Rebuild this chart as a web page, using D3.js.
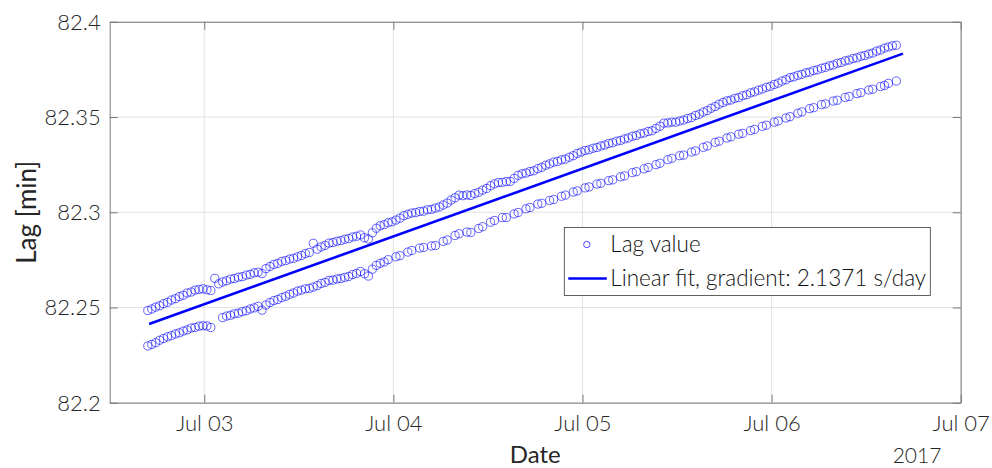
<!DOCTYPE html>
<html><head><meta charset="utf-8">
<script src="https://cdn.jsdelivr.net/npm/d3@7"></script>
<style>body{margin:0;background:#fff}svg{display:block}</style>
</head><body><svg id="chart" width="992" height="468"></svg>
<script>
// ---------- data ----------
const seriesName = "Lag value";
const fitName = "Linear fit, gradient: 2.1371 s/day";
const xLabel = "Date", yLabel = "Lag [min]", yearLabel = "2017";
const yTicks = [82.2, 82.25, 82.3, 82.35, 82.4];
const yTickLabels = ["82.2", "82.25", "82.3", "82.35", "82.4"];
const xTickDates = [new Date(2017,6,3), new Date(2017,6,4), new Date(2017,6,5), new Date(2017,6,6), new Date(2017,6,7)];
const xTickLabels = ["Jul 03", "Jul 04", "Jul 05", "Jul 06", "Jul 07"];
const xDomain = [new Date(2017,6,2,12,0), new Date(2017,6,7,0,0)];
const yDomain = [82.2, 82.4];
const sampleStart = new Date(2017,6,2,16,50);
const sampleStepMinutes = 30;
const upperLag = [
82.2484,82.2492,82.2502,82.2509,82.2520,82.2527,82.2539,82.2546,82.2557,82.2564,
82.2576,82.2581,82.2591,82.2595,82.2598,82.2593,82.2589,82.2653,82.2624,82.2634,
82.2640,82.2649,82.2652,82.2659,82.2662,82.2670,82.2674,82.2682,82.2685,82.2678,
82.2704,82.2715,82.2726,82.2732,82.2742,82.2746,82.2754,82.2758,82.2766,82.2773,
82.2783,82.2789,82.2837,82.2806,82.2818,82.2826,82.2838,82.2841,82.2848,82.2851,
82.2858,82.2862,82.2870,82.2874,82.2881,82.2866,82.2860,82.2892,82.2916,82.2929,
82.2935,82.2945,82.2950,82.2959,82.2969,82.2982,82.2989,82.2996,82.2998,82.3004,
82.3006,82.3013,82.3015,82.3022,82.3028,82.3038,82.3048,82.3064,82.3076,82.3090,
82.3087,82.3091,82.3088,82.3098,82.3105,82.3116,82.3125,82.3139,82.3149,82.3156,
82.3157,82.3161,82.3162,82.3178,82.3194,82.3202,82.3206,82.3214,82.3218,82.3229,
82.3236,82.3247,82.3254,82.3263,82.3267,82.3275,82.3279,82.3289,82.3297,82.3309,
82.3316,82.3324,82.3328,82.3336,82.3340,82.3348,82.3353,82.3361,82.3365,82.3373,
82.3377,82.3385,82.3390,82.3399,82.3403,82.3412,82.3416,82.3424,82.3428,82.3440,
82.3452,82.3468,82.3469,82.3473,82.3473,82.3479,82.3484,82.3492,82.3497,82.3508,
82.3515,82.3526,82.3534,82.3546,82.3555,82.3567,82.3576,82.3585,82.3589,82.3598,
82.3602,82.3612,82.3617,82.3627,82.3632,82.3641,82.3647,82.3656,82.3661,82.3671,
82.3678,82.3689,82.3696,82.3707,82.3711,82.3719,82.3724,82.3732,82.3736,82.3744,
82.3748,82.3756,82.3761,82.3769,82.3773,82.3782,82.3786,82.3795,82.3799,82.3807,
82.3811,82.3819,82.3823,82.3831,82.3836,82.3846,82.3852,82.3862,82.3868,82.3874,
82.3877];
const lowerLag = [
82.2298,82.2306,82.2315,82.2328,82.2337,82.2346,82.2352,82.2361,82.2367,82.2376,
82.2382,82.2392,82.2395,82.2402,82.2404,82.2403,82.2395,null,null,82.2447,
82.2455,82.2459,82.2467,82.2470,82.2478,82.2483,82.2492,82.2498,82.2506,82.2486,
82.2513,82.2526,82.2536,82.2542,82.2552,82.2559,82.2569,82.2576,82.2586,82.2591,
82.2598,82.2600,82.2607,82.2615,82.2626,82.2632,82.2642,82.2644,82.2650,82.2652,
82.2658,82.2663,82.2673,82.2679,82.2689,82.2677,82.2665,82.2701,82.2721,82.2732,
82.2739,82.2751,null,82.2766,82.2772,null,82.2791,82.2799,null,82.2812,
82.2815,null,82.2823,82.2825,null,82.2847,82.2854,null,82.2878,82.2887,
null,82.2896,82.2894,null,82.2915,82.2924,null,82.2948,82.2957,null,
82.2972,82.2972,null,82.2991,82.2999,null,82.3018,82.3025,null,82.3043,
82.3047,null,82.3062,82.3067,null,82.3084,82.3090,null,82.3106,82.3112,
null,82.3128,82.3133,null,82.3148,82.3152,null,82.3166,82.3170,null,
82.3186,82.3191,null,82.3208,82.3213,null,82.3228,82.3235,null,82.3250,
82.3257,null,82.3276,82.3283,null,82.3297,82.3300,null,82.3316,82.3322,
null,82.3341,82.3348,null,82.3367,82.3373,null,82.3390,82.3396,null,
82.3410,82.3414,null,82.3429,82.3435,null,82.3451,82.3457,null,82.3473,
82.3479,null,82.3495,82.3502,null,82.3520,82.3527,null,82.3544,82.3549,
null,82.3565,82.3569,null,82.3584,82.3588,null,82.3603,82.3608,null,
82.3623,82.3628,null,82.3642,82.3646,null,82.3660,82.3666,82.3677,null,
82.3689];
const fitTimes = [new Date(2017,6,2,17,0), new Date(2017,6,6,16,40)];
const fitValues = [82.2413, 82.3833];

// ---------- layout ----------
const plot = {left: 109.7, right: 960.7, top: 21.8, bottom: 402.7};
const FONT = "Lato, 'Open Sans', sans-serif";
const BLUE = "#0000ff";
const svg = d3.select("#chart");

const x = d3.scaleTime().domain(xDomain).range([plot.left, plot.right]);
const y = d3.scaleLinear().domain(yDomain).range([plot.bottom, plot.top]);

const times = upperLag.map((_, i) => d3.timeMinute.offset(sampleStart, i * sampleStepMinutes));
const points = [];
upperLag.forEach((v, i) => { if (v != null) points.push({t: times[i], v}); });
lowerLag.forEach((v, i) => { if (v != null) points.push({t: times[i], v}); });

// grid
const grid = svg.append("g");
grid.selectAll(".gx").data(xTickDates).join("line")
  .attr("x1", d => x(d)).attr("x2", d => x(d))
  .attr("y1", plot.top).attr("y2", plot.bottom)
  .attr("stroke", "#e3e3e3").attr("stroke-width", 1);
grid.selectAll(".gy").data(yTicks).join("line")
  .attr("x1", plot.left).attr("x2", plot.right)
  .attr("y1", d => y(d)).attr("y2", d => y(d))
  .attr("stroke", "#e3e3e3").attr("stroke-width", 1);

// data points
svg.append("g").selectAll("circle").data(points).join("circle")
  .attr("cx", d => x(d.t)).attr("cy", d => y(d.v)).attr("r", 4.1)
  .attr("fill", "none").attr("stroke", BLUE).attr("stroke-width", 0.6);

// fit line
svg.append("path")
  .datum(fitTimes.map((t, i) => ({t, v: fitValues[i]})))
  .attr("d", d3.line().x(d => x(d.t)).y(d => y(d.v)))
  .attr("fill", "none").attr("stroke", BLUE).attr("stroke-width", 2.6);

// axes (box with inward ticks)
const axisColor = "#7a7a7a";
const tickLen = 8;
const bottomAxis = d3.axisBottom(x).tickValues(xTickDates).tickSizeInner(-tickLen).tickSizeOuter(0).tickFormat((d, i) => xTickLabels[i]);
const topAxis = d3.axisTop(x).tickValues(xTickDates).tickSizeInner(-tickLen).tickSizeOuter(0).tickFormat("");
const leftAxis = d3.axisLeft(y).tickValues(yTicks).tickSizeInner(-tickLen).tickSizeOuter(0).tickFormat((d, i) => yTickLabels[i]);
const rightAxis = d3.axisRight(y).tickValues(yTicks).tickSizeInner(-tickLen).tickSizeOuter(0).tickFormat("");

function style(g) {
  g.select(".domain").attr("stroke", axisColor).attr("stroke-width", 1);
  g.selectAll(".tick line").attr("stroke", axisColor).attr("stroke-width", 1);
  g.selectAll(".tick text").attr("fill", "#262626").attr("font-family", FONT)
    .attr("font-weight", 300).attr("font-size", 22);
}
const gb = svg.append("g").attr("transform", `translate(0,${plot.bottom})`).call(bottomAxis);
style(gb); gb.selectAll(".tick text").attr("y", 13).attr("dy", "0.71em");
const gt = svg.append("g").attr("transform", `translate(0,${plot.top})`).call(topAxis); style(gt);
const gl = svg.append("g").attr("transform", `translate(${plot.left},0)`).call(leftAxis);
style(gl); gl.selectAll(".tick text").attr("x", -9).attr("dy", "0.34em");
const gr = svg.append("g").attr("transform", `translate(${plot.right},0)`).call(rightAxis); style(gr);

// axis labels
svg.append("text").attr("x", (plot.left + plot.right) / 2).attr("y", 463)
  .attr("text-anchor", "middle")
  .attr("font-family", FONT).attr("font-size", 24)
  .attr("fill", "#262626").text(xLabel);
svg.append("text").attr("x", 917).attr("y", 463)
  .attr("text-anchor", "middle")
  .attr("font-family", FONT).attr("font-weight", 300).attr("font-size", 21)
  .attr("fill", "#262626").text(yearLabel);
svg.append("text").attr("transform", `translate(26,${(plot.top + plot.bottom) / 2}) rotate(-90)`)
  .attr("text-anchor", "middle").attr("dominant-baseline", "central")
  .attr("font-family", FONT).attr("font-size", 26)
  .attr("fill", "#262626").text(yLabel);

// legend
const lg = svg.append("g");
const lb = {x: 564.3, y: 227.5, w: 366, h: 68};
lg.append("rect").attr("x", lb.x).attr("y", lb.y).attr("width", lb.w).attr("height", lb.h)
  .attr("fill", "#fff").attr("stroke", "#3a3a3a").attr("stroke-width", 0.8);
const row1 = lb.y + 17, row2 = lb.y + 51;
lg.append("circle").attr("cx", lb.x + 22.5).attr("cy", row1).attr("r", 3.2)
  .attr("fill", "none").attr("stroke", BLUE).attr("stroke-width", 0.7);
lg.append("line").attr("x1", lb.x + 4).attr("x2", lb.x + 42.5).attr("y1", row2).attr("y2", row2)
  .attr("stroke", BLUE).attr("stroke-width", 2.6);
[[seriesName, row1], [fitName, row2]].forEach(([t, yy]) => {
  lg.append("text").attr("x", lb.x + 46).attr("y", yy).attr("dy", "0.35em")
    .attr("font-family", FONT).attr("font-weight", 300).attr("font-size", 22.5)
    .attr("fill", "#111").text(t);
});
</script></body></html>
